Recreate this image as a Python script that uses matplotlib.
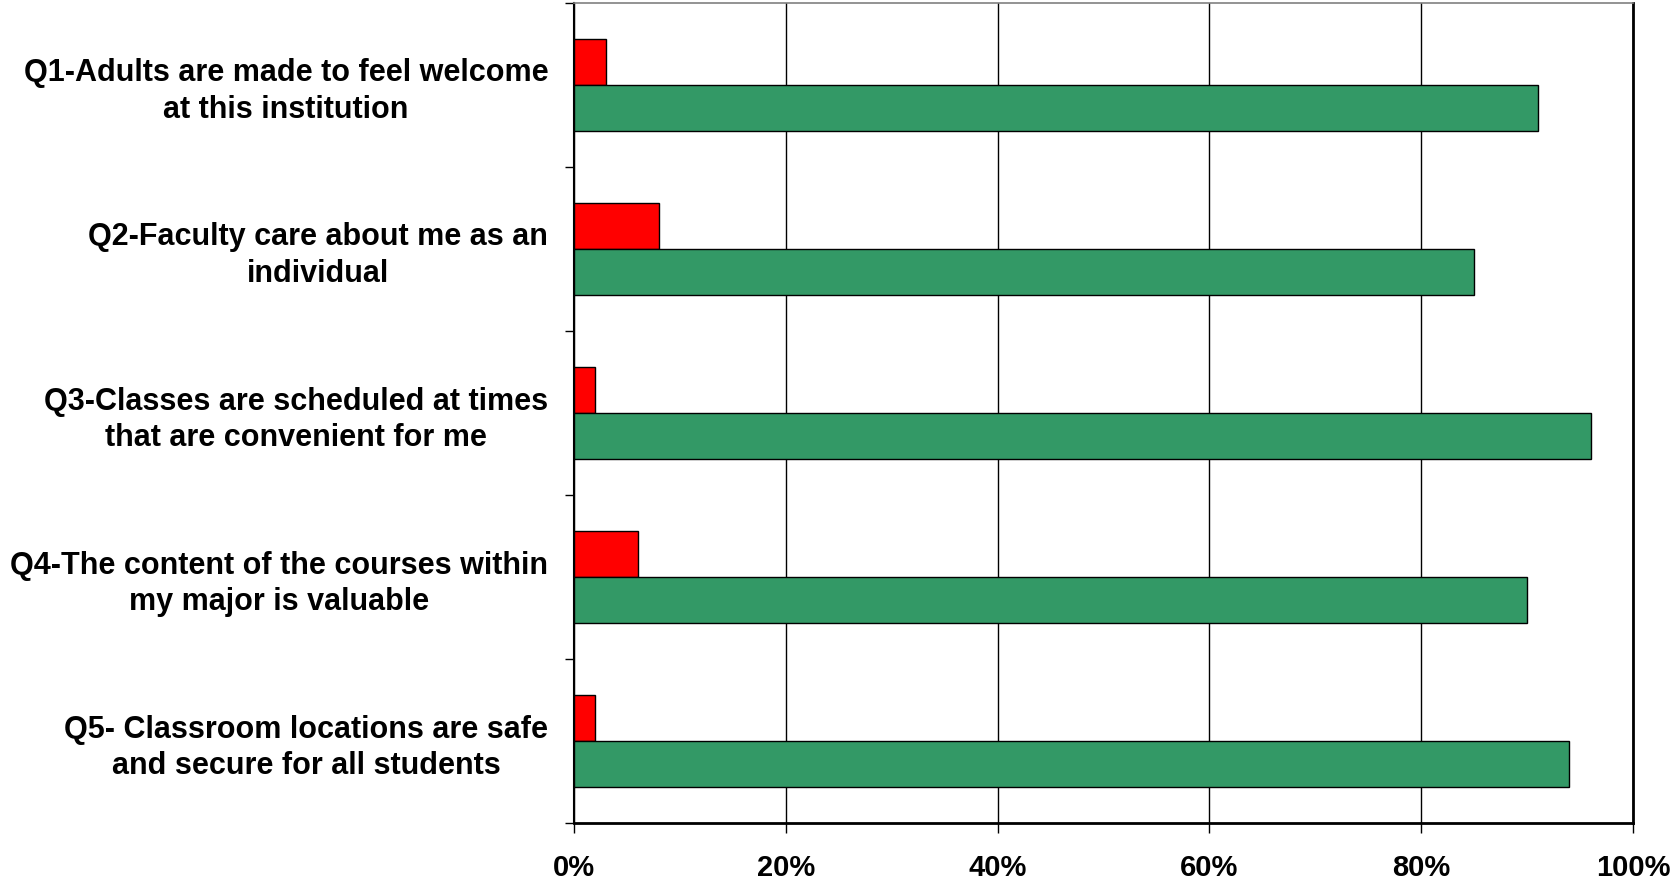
import matplotlib
matplotlib.use("Agg")
import matplotlib.pyplot as plt
import numpy as np
from matplotlib.ticker import FuncFormatter

plt.rcParams['font.family'] = ['Liberation Sans', 'DejaVu Sans']

questions = [
    "Q1-Adults are made to feel welcome\nat this institution",
    "Q2-Faculty care about me as an\nindividual",
    "Q3-Classes are scheduled at times\nthat are convenient for me",
    "Q4-The content of the courses within\nmy major is valuable",
    "Q5- Classroom locations are safe\nand secure for all students",
]
disagree = [3, 8, 2, 6, 2]
agree = [91, 85, 96, 90, 94]
x_ticks = [0, 20, 40, 60, 80, 100]

fig = plt.figure(figsize=(16.76, 8.88), dpi=100)
ax = fig.add_axes([574 / 1676, 1 - 823 / 888, (1633 - 574) / 1676, (823 - 3) / 888])

n = len(questions)
centers = np.arange(n)
h = 0.28
ax.barh(centers - h / 2, disagree, height=h, color="#FF0000",
        edgecolor="black", linewidth=1.0, zorder=3)
ax.barh(centers + h / 2, agree, height=h, color="#339966",
        edgecolor="black", linewidth=1.0, zorder=3)

ax.set_xlim(0, 100)
ax.set_ylim(n - 0.5, -0.5)

ax.set_xticks(x_ticks)
ax.xaxis.set_major_formatter(FuncFormatter(lambda v, p: f"{int(v)}%"))
for lbl in ax.get_xticklabels():
    lbl.set_fontsize(21)
    lbl.set_fontweight("bold")
ax.tick_params(axis="x", direction="out", length=7.2, width=1.0, pad=15)

# category boundaries carry the tick marks; labels sit at the centres
ax.set_yticks(np.arange(n + 1) - 0.5)
ax.set_yticklabels([])
ax.set_yticks(centers, minor=True)
ax.set_yticklabels(questions, minor=True, fontsize=22, fontweight="bold",
                   multialignment="center", linespacing=1.3)
ax.tick_params(axis="y", which="major", direction="out", length=6.5, width=1.0)
ax.tick_params(axis="y", which="minor", length=0, pad=18.5)

ax.xaxis.grid(True, color="black", linewidth=1.0, zorder=0)
ax.set_axisbelow(True)

ax.spines["left"].set_linewidth(1.5)
ax.spines["bottom"].set_linewidth(2.0)
ax.spines["right"].set_linewidth(2.0)
ax.spines["top"].set_color("#808080")
ax.spines["top"].set_linewidth(1.2)

fig.savefig("out.png", dpi=100)
